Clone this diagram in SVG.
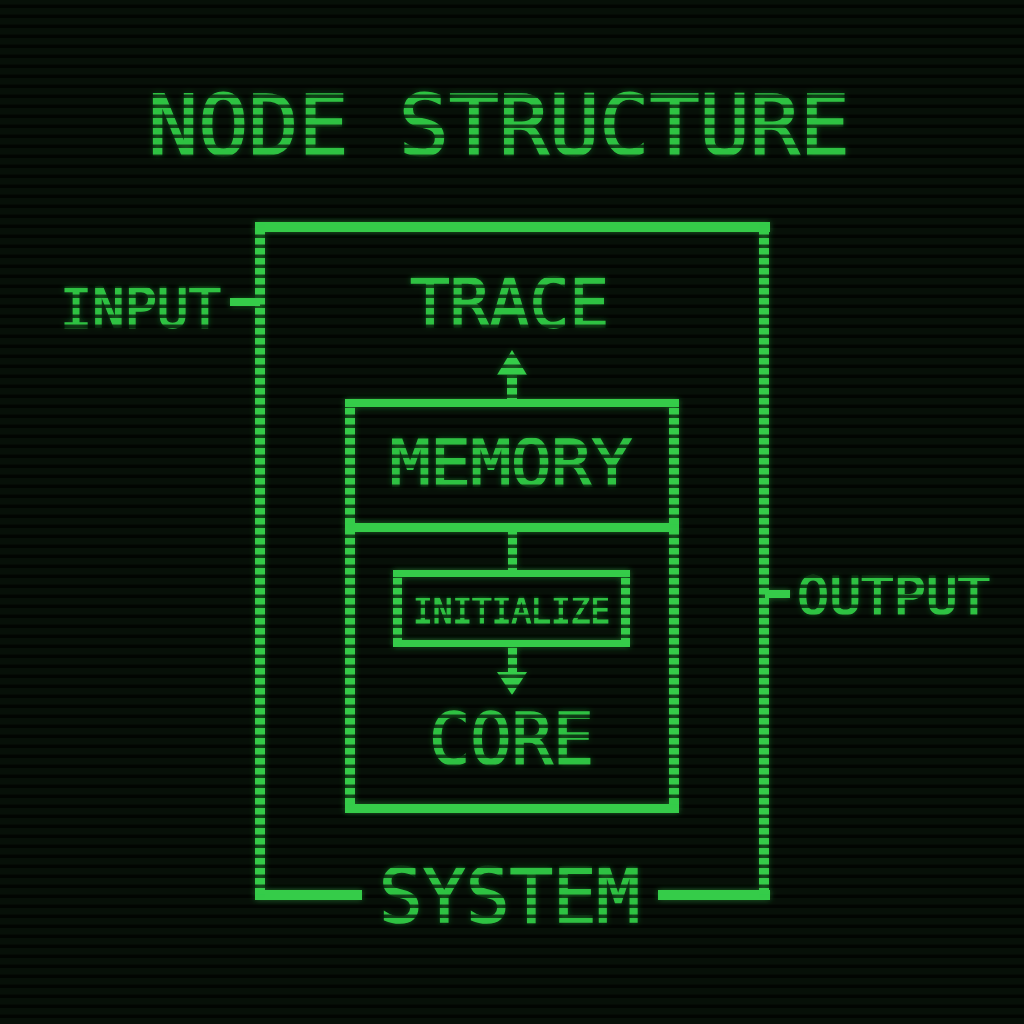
<svg xmlns="http://www.w3.org/2000/svg" width="1024" height="1024" viewBox="0 0 1024 1024">
  <defs>
    <pattern id="bgStripes" width="10" height="10" patternUnits="userSpaceOnUse">
      <rect width="10" height="10" fill="#071008"/>
      <rect y="4.5" width="10" height="3.5" fill="#020502"/>
    </pattern>
    <pattern id="stripes" width="10" height="10" patternUnits="userSpaceOnUse">
      <rect width="10" height="10" fill="#fff"/>
      <rect y="4.5" width="10" height="3.5" fill="#222"/>
    </pattern>
    <mask id="scan" maskUnits="userSpaceOnUse" x="0" y="0" width="1024" height="1024">
      <rect width="1024" height="1024" fill="url(#stripes)"/>
    </mask>
    <filter id="glow" x="-5%" y="-5%" width="110%" height="110%">
      <feGaussianBlur in="SourceGraphic" stdDeviation="3" result="b"/>
      <feComponentTransfer in="b" result="bd"><feFuncA type="linear" slope="0.45"/></feComponentTransfer>
      <feMerge><feMergeNode in="bd"/><feMergeNode in="SourceGraphic"/></feMerge>
    </filter>
  </defs>
  <style>
    .h { fill: #34cc48; }
    .v { fill: #34cc48; }
    .t { fill: #2fc243; stroke: #2fc243; stroke-width: 1.5; font-family: "DejaVu Sans Mono", "Liberation Mono", monospace; font-weight: normal; }
    .small { stroke-width: 1; }
  </style>

  <rect width="1024" height="1024" fill="url(#bgStripes)"/>

  <g filter="url(#glow)">
    <g id="title" mask="url(#scan)">
      <text class="t" x="148" y="155" font-size="84" textLength="702" lengthAdjust="spacingAndGlyphs">NODE STRUCTURE</text>
    </g>

    <g id="system">
      <rect class="h" x="255" y="222" width="515" height="10"/>
      <rect class="h" x="255" y="890" width="107" height="10"/>
      <rect class="h" x="658" y="890" width="112" height="10"/>
      <g mask="url(#scan)">
        <rect class="v" x="255" y="222" width="10" height="678"/>
        <rect class="v" x="759" y="222" width="10" height="678"/>
        <text class="t" x="379" y="922" font-size="74" textLength="261" lengthAdjust="spacingAndGlyphs">SYSTEM</text>
      </g>
    </g>

    <g id="input" mask="url(#scan)">
      <text class="t" x="60" y="327" font-size="55" textLength="161" lengthAdjust="spacingAndGlyphs">INPUT</text>
    </g>

    <g id="trace" mask="url(#scan)">
      <text class="t" x="410" y="327" font-size="67" textLength="199" lengthAdjust="spacingAndGlyphs">TRACE</text>
    </g>

    <g id="output" mask="url(#scan)">
      <text class="t" x="797" y="614" font-size="52" textLength="193" lengthAdjust="spacingAndGlyphs">OUTPUT</text>
    </g>

    <g id="container">
      <rect class="h" x="345" y="399" width="334" height="8"/>
      <rect class="h" x="345" y="523" width="334" height="9"/>
      <rect class="h" x="345" y="804" width="334" height="9"/>
      <g mask="url(#scan)">
        <rect class="v" x="345" y="399" width="10" height="414"/>
        <rect class="v" x="669" y="399" width="10" height="414"/>
      </g>
    </g>

    <g id="memory" mask="url(#scan)">
      <text class="t" x="390" y="486" font-size="64" textLength="242" lengthAdjust="spacingAndGlyphs">MEMORY</text>
    </g>

    <g id="initialize">
      <rect class="h" x="393" y="570" width="237" height="7"/>
      <rect class="h" x="393" y="640" width="237" height="7"/>
      <g mask="url(#scan)">
        <rect class="v" x="393" y="570" width="9" height="77"/>
        <rect class="v" x="621" y="570" width="9" height="77"/>
        <text class="t small" x="413" y="623" font-size="36" textLength="197" lengthAdjust="spacingAndGlyphs">INITIALIZE</text>
      </g>
    </g>

    <g id="core" mask="url(#scan)">
      <text class="t" x="429" y="764" font-size="71" textLength="165" lengthAdjust="spacingAndGlyphs">CORE</text>
    </g>

    <g id="connectors">
      <rect class="h" x="230" y="298" width="30" height="8"/>
      <rect class="h" x="765" y="590" width="25" height="8"/>
      <g mask="url(#scan)">
        <rect class="v" x="507" y="372" width="10" height="28"/>
        <polygon class="v" points="512,350 527,375 497,375"/>
        <rect class="v" x="508" y="531" width="9" height="40"/>
        <rect class="v" x="508" y="646" width="9" height="28"/>
        <polygon class="v" points="497,672 527,672 512,695"/>
      </g>
    </g>
  </g>
</svg>
